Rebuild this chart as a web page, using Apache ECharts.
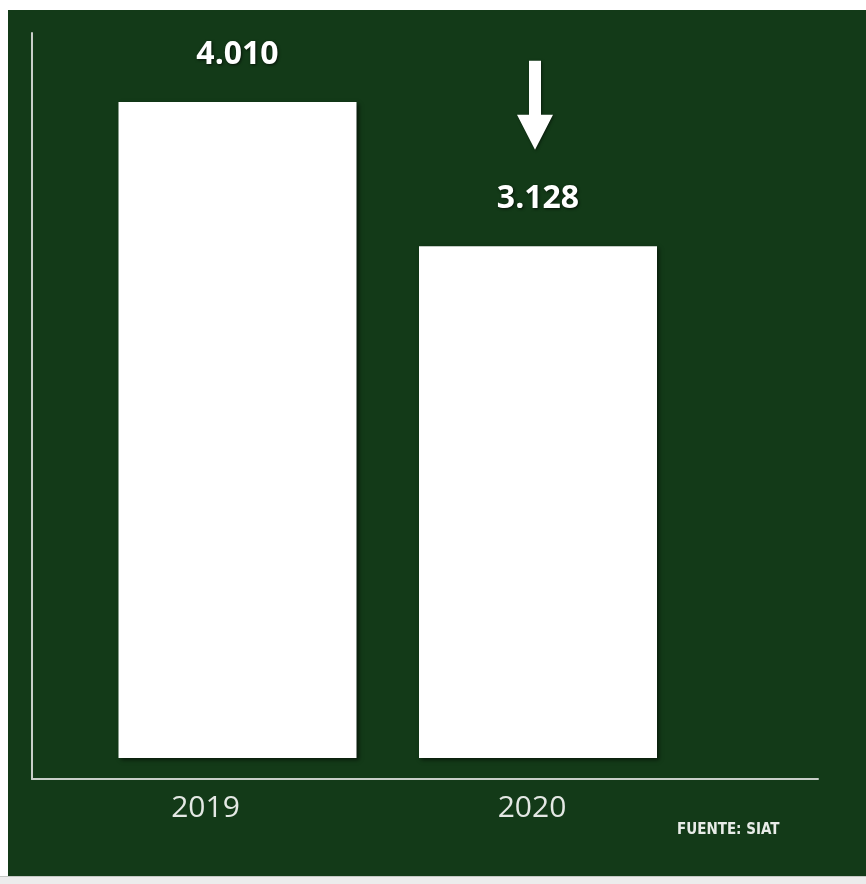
<!DOCTYPE html>
<html>
<head>
<meta charset="utf-8">
<script src="https://cdn.jsdelivr.net/npm/echarts@6/dist/echarts.min.js"></script>
<style>
html,body{margin:0;padding:0;background:#ffffff;}
#chart{width:866px;height:884px;}
</style>
</head>
<body>
<div id="chart"></div>
<script>
const categories = ['2019', '2020'];
const values = [4010, 3128];
const sourceText = 'FUENTE: SIAT';

const fmt = v => String(v).replace(/\B(?=(\d{3})+(?!\d))/g, '.');

const chart = echarts.init(document.getElementById('chart'));
const green = '#133a18';
const axisColor = '#c9cec9';

chart.setOption({
  backgroundColor: '#ffffff',
  animation: false,
  graphic: [
    { type: 'rect', left: 8, top: 10, shape: { width: 858, height: 866 }, style: { fill: green }, z: -10 },
    { type: 'rect', left: 0, top: 876, shape: { width: 866, height: 8 }, style: { fill: '#ececec' }, z: -10 },
    { type: 'rect', left: 0, top: 876, shape: { width: 866, height: 1 }, style: { fill: '#c4c8c4' }, z: -10 },
    { type: 'text', left: 677, top: 823, style: { text: sourceText, fill: '#e8ece8', font: 'bold 15px "Liberation Sans Narrow", "DejaVu Sans Condensed", sans-serif' } }
  ],
  grid: [
    { left: 32, right: 48, top: 33, bottom: 105 },
    { left: 87.25, width: 601, top: 33, bottom: 105 }
  ],
  xAxis: [
    { gridIndex: 0, type: 'value', min: 0, max: 1, axisLine: { show: true, onZero: false, lineStyle: { color: axisColor, width: 2 } }, axisTick: { show: false }, axisLabel: { show: false }, splitLine: { show: false } },
    {
      gridIndex: 1, type: 'category', data: categories,
      axisLine: { show: false }, axisTick: { show: false },
      axisLabel: {
        margin: 14,
        color: '#e4e8e4',
        fontSize: 30,
        fontFamily: '"Open Sans", sans-serif',
        formatter: (v, i) => i === 0 ? '{a|' + v + '}' : '{b|' + v + '}',
        rich: {
          a: { fontSize: 30, color: '#e4e8e4', fontWeight: 500, fontFamily: '"Open Sans", sans-serif', padding: [0, 64, 0, 0] },
          b: { fontSize: 30, color: '#e4e8e4', fontWeight: 500, fontFamily: '"Open Sans", sans-serif', padding: [0, 12, 0, 0] }
        }
      }
    }
  ],
  yAxis: [
    { gridIndex: 0, type: 'value', min: 0, max: 1, axisLine: { show: true, onZero: false, lineStyle: { color: axisColor, width: 2 } }, axisTick: { show: false }, axisLabel: { show: false }, splitLine: { show: false } },
    { gridIndex: 1, type: 'value', min: -128.4, max: 4431.8, show: false, splitLine: { show: false } }
  ],
  series: [{
    type: 'bar',
    xAxisIndex: 1,
    yAxisIndex: 1,
    data: values,
    barWidth: 238,
    itemStyle: {
      color: '#ffffff',
      shadowColor: 'rgba(0,0,0,0.55)',
      shadowBlur: 4,
      shadowOffsetX: 2,
      shadowOffsetY: 2
    },
    label: {
      show: true,
      position: 'top',
      distance: 31,
      formatter: p => fmt(p.value),
      color: '#ffffff',
      fontSize: 32,
      fontWeight: 'bold',
      fontFamily: '"Open Sans", sans-serif',
      textShadowColor: 'rgba(0,0,0,0.7)',
      textShadowBlur: 3,
      textShadowOffsetX: 1,
      textShadowOffsetY: 1
    },
    markPoint: {
      silent: true,
      symbol: 'path://M12,0 L24,0 L24,54 L36,54 L18,89 L0,54 L12,54 Z',
      symbolSize: [36, 89],
      symbolKeepAspect: false,
      symbolOffset: [-3, -141],
      itemStyle: { color: '#ffffff', shadowColor: 'rgba(0,0,0,0.5)', shadowBlur: 3, shadowOffsetX: 1, shadowOffsetY: 1 },
      label: { show: false },
      data: [{ coord: [categories[1], values[1]] }]
    }
  }]
});
</script>
</body>
</html>
